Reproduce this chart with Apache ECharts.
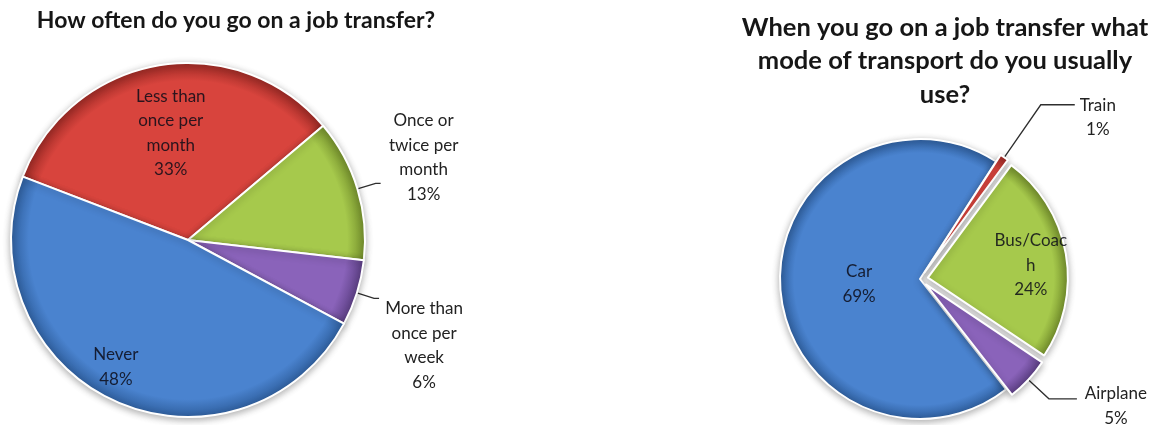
<!DOCTYPE html>
<html>
<head>
<meta charset="utf-8">
<script src="https://cdn.jsdelivr.net/npm/echarts@6/dist/echarts.min.js"></script>
<style>
  html, body { margin: 0; padding: 0; background: #ffffff; }
  #chart { width: 1163px; height: 425px; }
</style>
</head>
<body>
<div id="chart"></div>
<script>
// Survey answers: how often people go on a job transfer
const frequencyLabels = ['Less than\nonce per\nmonth', 'Once or\ntwice per\nmonth', 'More than\nonce per\nweek', 'Never'];
const frequencyValues = [33, 13, 6, 48];

// Survey answers: usual mode of transport on a job transfer
const transportLabels = ['Car', 'Train', 'Bus/Coac\nh', 'Airplane'];
const transportValues = [69, 1, 24, 5];

const titleLeft = 'How often do you go on a job transfer?';
const titleRight = 'When you go on a job transfer what\nmode of transport do you usually\nuse?';

const FONT = "Lato, 'Open Sans', 'DejaVu Sans', sans-serif";
const LABEL_SIZE = 17;
const LABEL_LH = 24.5;

// Office-style slice palette: [base, rim]
const BLUE = ['#4a83cf', '#2f5f9e'];
const RED = ['#d8443d', '#9c2a25'];
const GREEN = ['#a6c94c', '#748f2c'];
const PURPLE = ['#8a63ba', '#5c3f84'];

// Pie geometry
const LEFT_PIE = { cx: 188, cy: 240, r: 177, start: 159 };
const RIGHT_PIE = { cx: 920, cy: 279, r: 140, start: -52 };

function bevelFill(colors, pie) {
  return {
    type: 'radial', x: pie.cx, y: pie.cy, r: pie.r, global: true,
    colorStops: [
      { offset: 0, color: colors[0] },
      { offset: 0.9, color: colors[0] },
      { offset: 1, color: colors[1] }
    ]
  };
}

function richCentered(p) {
  const lines = p.name.split('\n').concat([p.value + '%']);
  return lines.map(function (s) { return '{c|' + s + '}'; }).join('\n');
}

const insideLabel = {
  show: true, position: 'inside', fontFamily: FONT, fontSize: LABEL_SIZE, lineHeight: LABEL_LH,
  color: 'rgba(12,12,24,0.85)',
  formatter: function (p) { return p.name + '\n' + p.value + '%'; }
};

function outsideLabel(width, padding) {
  return {
    show: true, position: 'outside', fontFamily: FONT, fontSize: LABEL_SIZE, lineHeight: LABEL_LH,
    color: '#222222', padding: padding, distanceToLabelLine: 2,
    formatter: richCentered,
    rich: { c: { width: width, align: 'center', fontFamily: FONT, fontSize: LABEL_SIZE, lineHeight: LABEL_LH, color: '#222222' } }
  };
}

const leaderLine = { lineStyle: { color: '#2e2e2e', width: 1.3 } };

const sliceStyle = {
  borderColor: '#ffffff', borderWidth: 2,
  shadowBlur: 7, shadowColor: 'rgba(0,0,0,0.30)', shadowOffsetY: 2
};

// Per-slice label nudges (px) for inside labels
const frequencyNudge = [[-2, -17], [0, 0], [0, 0], [-34, 44]];
const transportNudge = [[12, 2], [0, 0], [31, 0], [0, 0]];

const frequencyColors = [RED, GREEN, PURPLE, BLUE];
const transportColors = [BLUE, RED, GREEN, PURPLE];

const frequencyData = frequencyValues.map(function (v, i) {
  const item = {
    value: v, name: frequencyLabels[i],
    itemStyle: Object.assign({ color: bevelFill(frequencyColors[i], LEFT_PIE) }, sliceStyle)
  };
  if (i === 1) {
    item.label = outsideLabel(82, [0, 0, 52, 0]);
    item.labelLine = Object.assign({ show: true, length: 19, length2: 5 }, leaderLine);
  } else if (i === 2) {
    item.label = outsideLabel(86, [94, 0, 0, 0]);
    item.labelLine = Object.assign({ show: true, length: 18, length2: 5 }, leaderLine);
  } else {
    item.label = insideLabel;
  }
  return item;
});

const transportData = transportValues.map(function (v, i) {
  const item = {
    value: v, name: transportLabels[i],
    selected: i !== 0,
    itemStyle: Object.assign({ color: bevelFill(transportColors[i], RIGHT_PIE) }, sliceStyle)
  };
  if (i === 1) {
    item.label = outsideLabel(42, [26, 0, 0, 0]);
    item.labelLine = Object.assign({ show: true, length: 64, length2: 34 }, leaderLine);
  } else if (i === 3) {
    item.label = outsideLabel(74, [14, 0, 0, 0]);
    item.labelLine = Object.assign({ show: true, length: 28, length2: 28 }, leaderLine);
  } else {
    item.label = insideLabel;
  }
  return item;
});

const chart = echarts.init(document.getElementById('chart'), null, { renderer: 'canvas' });

chart.setOption({
  animation: false,
  backgroundColor: '#ffffff',
  title: [
    {
      text: titleLeft, left: 231, top: 4, textAlign: 'center',
      textStyle: { fontFamily: FONT, fontSize: 23, fontWeight: 'bold', color: '#161616' }
    },
    {
      text: titleRight, left: 940, top: 6, textAlign: 'center',
      textStyle: { fontFamily: FONT, fontSize: 25.5, fontWeight: 'bold', color: '#161616', lineHeight: 33.5 }
    }
  ],
  series: [
    {
      type: 'pie',
      center: [LEFT_PIE.cx, LEFT_PIE.cy],
      radius: LEFT_PIE.r,
      startAngle: LEFT_PIE.start,
      clockwise: true,
      avoidLabelOverlap: false,
      silent: true,
      data: frequencyData,
      labelLayout: function (p) {
        const n = frequencyNudge[p.dataIndex];
        return { dx: n[0], dy: n[1] };
      }
    },
    {
      type: 'pie',
      center: [RIGHT_PIE.cx, RIGHT_PIE.cy],
      radius: RIGHT_PIE.r,
      startAngle: RIGHT_PIE.start,
      clockwise: true,
      avoidLabelOverlap: false,
      selectedMode: 'multiple',
      selectedOffset: 8,
      silent: true,
      select: { itemStyle: { borderColor: '#ffffff', borderWidth: 2 } },
      data: transportData,
      labelLayout: function (p) {
        const n = transportNudge[p.dataIndex];
        return { dx: n[0], dy: n[1] };
      }
    }
  ]
});
</script>
</body>
</html>
